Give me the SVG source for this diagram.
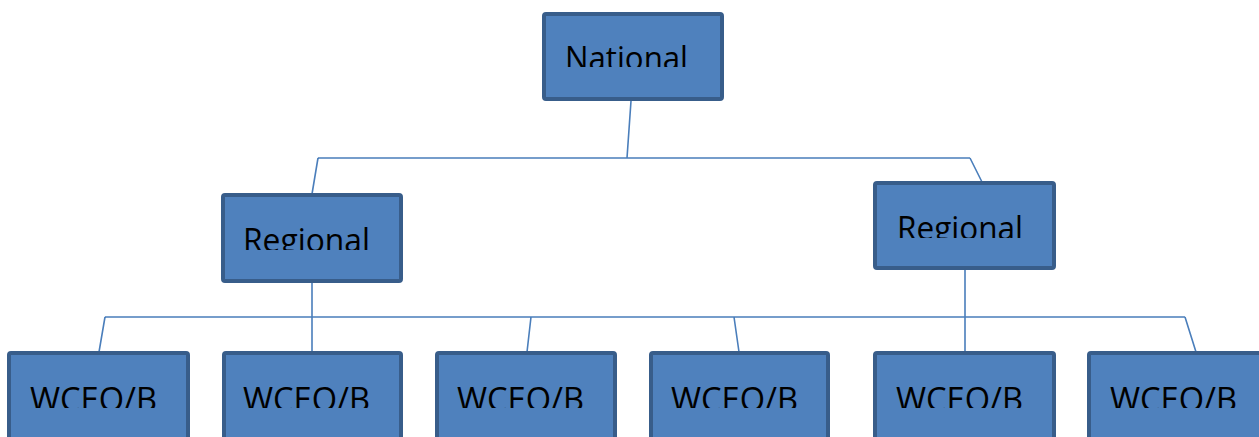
<svg xmlns="http://www.w3.org/2000/svg" width="1259" height="437" viewBox="0 0 1259 437">
  <style>
    .box { fill: #4F81BD; stroke: #385D8A; stroke-width: 4; }
    .label { font-family: "Open Sans", "Liberation Sans", sans-serif; font-size: 32px; fill: #000; }
    .wire { fill: none; stroke: #4A7EBB; stroke-width: 1.6; }
  </style>
  <defs>
    <!-- labels are cropped along their lower edge -->
    <clipPath id="cut-national"><rect x="540" y="10" width="190" height="57"/></clipPath>
    <clipPath id="cut-regional-l"><rect x="215" y="190" width="195" height="60"/></clipPath>
    <clipPath id="cut-regional-r"><rect x="868" y="178" width="195" height="60"/></clipPath>
    <clipPath id="cut-wceo"><rect x="0" y="348" width="1259" height="60"/></clipPath>
  </defs>

  <g id="connectors">
    <path class="wire" d="M631,101 L627,158 M318,158 L970,158 M318,158 L312,194 M970,158 L982,182"/>
    <path class="wire" d="M312,283 L312,352 M105,317 L1185,317 M105,317 L99,352 M531,317 L527,352 M734,317 L739,352 M965,270 L965,352 M1185,317 L1196,352"/>
  </g>

  <g id="national">
    <rect class="box" x="544" y="14" width="178" height="85" rx="2"/>
    <text class="label" x="565" y="70" textLength="123" lengthAdjust="spacingAndGlyphs" clip-path="url(#cut-national)">National</text>
  </g>

  <g id="regional-left">
    <rect class="box" x="223" y="195" width="178" height="86" rx="2"/>
    <text class="label" x="243" y="252" textLength="127" lengthAdjust="spacingAndGlyphs" clip-path="url(#cut-regional-l)">Regional</text>
  </g>

  <g id="regional-right">
    <rect class="box" x="875" y="183" width="179" height="85" rx="2"/>
    <text class="label" x="897" y="240" textLength="126" lengthAdjust="spacingAndGlyphs" clip-path="url(#cut-regional-r)">Regional</text>
  </g>

  <g id="wceo-1">
    <rect class="box" x="9" y="353" width="179" height="100" rx="2"/>
    <text class="label" x="30" y="411" textLength="127" lengthAdjust="spacingAndGlyphs" clip-path="url(#cut-wceo)">WCEO/B</text>
  </g>
  <g id="wceo-2">
    <rect class="box" x="224" y="353" width="177" height="100" rx="2"/>
    <text class="label" x="243" y="411" textLength="127" lengthAdjust="spacingAndGlyphs" clip-path="url(#cut-wceo)">WCEO/B</text>
  </g>
  <g id="wceo-3">
    <rect class="box" x="437" y="353" width="178" height="100" rx="2"/>
    <text class="label" x="457" y="411" textLength="127" lengthAdjust="spacingAndGlyphs" clip-path="url(#cut-wceo)">WCEO/B</text>
  </g>
  <g id="wceo-4">
    <rect class="box" x="651" y="353" width="177" height="100" rx="2"/>
    <text class="label" x="671" y="411" textLength="127" lengthAdjust="spacingAndGlyphs" clip-path="url(#cut-wceo)">WCEO/B</text>
  </g>
  <g id="wceo-5">
    <rect class="box" x="875" y="353" width="179" height="100" rx="2"/>
    <text class="label" x="896" y="411" textLength="127" lengthAdjust="spacingAndGlyphs" clip-path="url(#cut-wceo)">WCEO/B</text>
  </g>
  <g id="wceo-6">
    <rect class="box" x="1089" y="353" width="180" height="100" rx="2"/>
    <text class="label" x="1110" y="411" textLength="127" lengthAdjust="spacingAndGlyphs" clip-path="url(#cut-wceo)">WCEO/B</text>
  </g>
</svg>
